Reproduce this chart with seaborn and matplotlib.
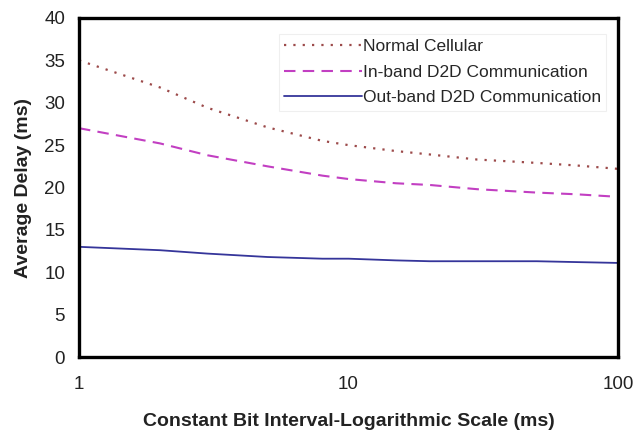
import numpy as np
import pandas as pd
import matplotlib
matplotlib.use("Agg")
import matplotlib.pyplot as plt
import seaborn as sns

# Constant bit interval (ms), logarithmic axis
interval = [1, 2, 3, 5, 8, 10, 15, 20, 30, 50, 70, 100]

# Average delay (ms) for each scheme
normal_cellular = [35.0, 31.8, 29.4, 27.1, 25.5, 25.0, 24.3, 23.9, 23.3, 22.9, 22.6, 22.2]
inband_d2d = [27.0, 25.2, 23.8, 22.5, 21.4, 21.0, 20.5, 20.3, 19.8, 19.4, 19.2, 18.9]
outband_d2d = [13.0, 12.6, 12.2, 11.8, 11.6, 11.6, 11.4, 11.3, 11.3, 11.3, 11.2, 11.1]

series_names = ["Normal Cellular", "In-band D2D Communication", "Out-band D2D Communication"]
y_ticks = [0, 5, 10, 15, 20, 25, 30, 35, 40]
x_ticks = [1, 10, 100]

sns.set_theme(style="white")
plt.rcParams["font.family"] = ["Liberation Sans", "DejaVu Sans"]

fig = plt.figure(figsize=(6.34, 4.33), dpi=100)
ax = fig.add_axes([79 / 634, 1 - 357 / 433, (618 - 79) / 634, (357 - 18) / 433])

styles = [
    dict(color="#9c4a4a", linestyle=(0, (1, 3.2)), linewidth=1.6),
    dict(color="#c23fc2", linestyle=(0, (5.5, 3.5)), linewidth=1.5),
    dict(color="#35359a", linestyle="-", linewidth=1.3),
]

for name, vals, st in zip(series_names, [normal_cellular, inband_d2d, outband_d2d], styles):
    df = pd.DataFrame({"x": interval, "y": vals})
    sns.lineplot(data=df, x="x", y="y", ax=ax, label=name, **st)

ax.set_xscale("log")
ax.set_xlim(1, 100)
ax.set_ylim(0, 40)
ax.set_xticks(x_ticks)
ax.set_xticklabels([str(t) for t in x_ticks])
ax.set_yticks(y_ticks)
ax.minorticks_off()
ax.tick_params(axis="both", length=0, labelsize=13.5, colors="#222222")
ax.tick_params(axis="x", pad=14)
ax.tick_params(axis="y", pad=10)

for sp in ax.spines.values():
    sp.set_visible(True)
    sp.set_color("black")
    sp.set_linewidth(2.4)

ax.set_xlabel("Constant Bit Interval-Logarithmic Scale (ms)", fontsize=14,
              fontweight="bold", color="#222222", labelpad=14)
ax.set_ylabel("Average Delay (ms)", fontsize=14, fontweight="bold",
              color="#222222", labelpad=9)

leg = ax.legend(loc="upper right", bbox_to_anchor=(0.978, 0.953), fontsize=12.5,
                frameon=True, fancybox=False, handlelength=4.5, handletextpad=0.05,
                labelspacing=0.6, borderpad=0.3, borderaxespad=0.0)
leg.get_frame().set_edgecolor("#ececec")
leg.get_frame().set_linewidth(0.8)

fig.savefig("out.png", dpi=100)
